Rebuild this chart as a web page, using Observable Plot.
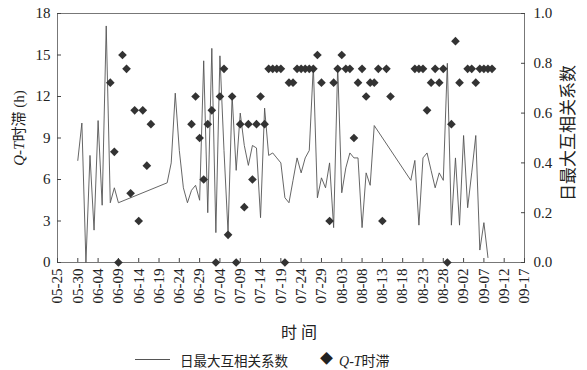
<!DOCTYPE html>
<html><head><meta charset="utf-8">
<script src="https://cdn.jsdelivr.net/npm/d3@7"></script>
<script src="https://cdn.jsdelivr.net/npm/@observablehq/plot@0.6"></script>
<style>
body{margin:0;background:#fff;}
#chart{width:587px;position:relative;}
.legend{position:relative;width:587px;height:30px;font-family:"Liberation Serif","Noto Sans CJK SC",serif;color:#222;}
.legend span{position:absolute;white-space:nowrap;}
</style></head><body><div id="chart"></div>
<script>
const year = 2019;
const xTickLabels = ["05-25","05-30","06-04","06-09","06-14","06-19","06-24","06-29","07-04","07-09","07-14","07-19","07-24","07-29","08-03","08-08","08-13","08-18","08-23","08-28","09-02","09-07","09-12","09-17"];
const lagTicks = [0,3,6,9,12,15,18];
const corrTicks = [0,0.2,0.4,0.6,0.8,1.0];

const corrDates = ["05-30","05-31","06-01","06-02","06-03","06-04","06-05","06-06","06-07","06-08","06-09",
"06-21","06-22","06-23","06-24","06-25","06-26","06-27","06-28","06-29","06-30",
"07-01","07-02","07-03","07-04","07-05","07-06","07-07","07-08","07-09","07-10",
"07-11","07-12","07-13","07-14","07-15","07-16","07-17","07-18","07-19","07-20",
"07-21","07-22","07-23","07-24","07-25","07-26","07-27","07-28","07-29","07-30","07-31",
"08-01","08-02","08-03","08-04","08-05","08-06","08-07","08-08","08-09","08-10","08-11",
"08-20","08-21","08-22","08-23","08-24","08-25","08-26","08-27","08-28","08-29","08-30","08-31",
"09-01","09-02","09-03","09-04","09-05","09-06","09-07","09-08"];
const corrValues = [0.41,0.56,0.00,0.43,0.13,0.57,0.23,0.95,0.24,0.30,0.24,
0.32,0.40,0.68,0.45,0.30,0.24,0.29,0.31,0.25,0.81,
0.20,0.86,0.12,0.83,0.45,0.12,0.67,0.37,0.60,0.47,
0.39,0.47,0.46,0.18,0.62,0.43,0.44,0.42,0.40,0.26,
0.24,0.33,0.42,0.36,0.42,0.45,0.79,0.26,0.34,0.30,0.40,
0.14,0.79,0.28,0.38,0.44,0.42,0.42,0.14,0.36,0.31,0.55,
0.33,0.41,0.15,0.42,0.44,0.37,0.30,0.36,0.33,0.80,0.15,0.42,
0.15,0.51,0.22,0.36,0.51,0.05,0.16,0.02];

const lagDates = ["06-07","06-08","06-09","06-10","06-11","06-12","06-13","06-14","06-15","06-16","06-17",
"06-27","06-28","06-29","06-30","07-01","07-02","07-03","07-04","07-05","07-06","07-07","07-08","07-09","07-10","07-11","07-12","07-13","07-14","07-15",
"07-16","07-17","07-18","07-19","07-20","07-21","07-22","07-23","07-24","07-25","07-26","07-27","07-28","07-29",
"07-31",
"08-01","08-02","08-03","08-04","08-05","08-06","08-07","08-08","08-09","08-10","08-11","08-12","08-13","08-14","08-15",
"08-21","08-22","08-23","08-24","08-25","08-26","08-27","08-28","08-29","08-30","08-31","09-01",
"09-03","09-04","09-05","09-06","09-07","09-08","09-09"];
const lagHours = [13,8,0,15,14,5,11,3,11,7,10,
10,12,9,6,10,11,0,12,14,2,12,0,10,4,10,6,10,12,10,
14,14,14,14,0,13,13,14,14,14,14,14,15,13,
3,
13,14,15,14,14,9,13,14,12,13,13,14,3,14,12,
14,14,14,11,13,14,13,14,0,10,16,13,
14,14,13,14,14,14,14];

const corrName = "日最大互相关系数";
const lagName = "时滞";
const lagVar = ["Q","T"];
const xTitle = "时 间";

const parse = s => { const [m, d] = s.split("-"); return new Date(Date.UTC(year, +m - 1, +d)); };
const yMax = lagTicks[lagTicks.length - 1];
const corr = corrDates.map((d, i) => ({date: parse(d), value: corrValues[i]}));
const lag = lagDates.map((d, i) => ({date: parse(d), hours: lagHours[i]}));
const xTicks = xTickLabels.map(parse);

const W = 587, H = 340;
const font = '"Liberation Serif","Noto Sans CJK SC",serif';
const plot = Plot.plot({
  width: W, height: H,
  marginLeft: 57, marginRight: 63, marginTop: 13, marginBottom: 78,
  style: {fontFamily: font, fontSize: "15px", color: "#222", background: "#fff"},
  x: {type: "utc", domain: [xTicks[0], xTicks[xTicks.length - 1]]},
  y: {domain: [0, yMax]},
  marks: [
    Plot.frame({stroke: "#777"}),
    Plot.axisX(xTicks, {tickRotate: -90, tickFormat: d3.utcFormat("%m-%d"), tickSize: -4, tickPadding: 10, label: null, stroke: "#444"}),
    Plot.axisY(lagTicks, {anchor: "left", tickSize: -4, tickPadding: 11, label: null, stroke: "#444"}),
    Plot.axisY(corrTicks.map(v => v * yMax), {anchor: "right", tickSize: -4, tickPadding: 13, tickFormat: d => (d / yMax).toFixed(1), label: null, stroke: "#444"}),
    Plot.line(corr, {x: "date", y: d => d.value * yMax, stroke: "#555", strokeWidth: 0.9}),
    Plot.dot(lag, {x: "date", y: "hours", symbol: "diamond2", r: 3.9, fill: "#333", stroke: null})
  ]
});
document.getElementById("chart").appendChild(plot);

const svg = d3.select(plot);
svg.append("text").attr("x", 299).attr("y", 338).attr("text-anchor", "middle")
  .attr("font-size", 16).attr("fill", "#222").attr("font-family", font).text(xTitle);
const lt = svg.append("text").attr("transform", "translate(24,128) rotate(-90)").attr("text-anchor", "middle")
  .attr("font-size", 15).attr("fill", "#222").attr("font-family", font);
lt.append("tspan").attr("font-style", "italic").text(lagVar[0]);
lt.append("tspan").text("-");
lt.append("tspan").attr("font-style", "italic").text(lagVar[1]);
lt.append("tspan").text(lagName + " (h)");
svg.append("text").attr("transform", "translate(574,133) rotate(-90)").attr("text-anchor", "middle")
  .attr("font-size", 17).attr("fill", "#222").attr("font-family", font).text(corrName);

const leg = d3.select("body").append("div").attr("class", "legend");
leg.append("div").style("position", "absolute").style("left", "135px").style("top", "19px")
  .style("width", "35px").style("border-top", "1px solid #555");
leg.append("span").style("left", "180px").style("top", "10px").style("font-size", "13.5px").text(corrName);
leg.append("span").style("left", "320px").style("top", "8px").style("font-size", "13px").text("◆");
const l2 = leg.append("span").style("left", "339px").style("top", "10px").style("font-size", "14px");
l2.append("i").text(lagVar[0]);
l2.append("span").style("position", "static").text("-");
l2.append("i").text(lagVar[1]);
l2.append("span").style("position", "static").text(lagName);
</script></body></html>
